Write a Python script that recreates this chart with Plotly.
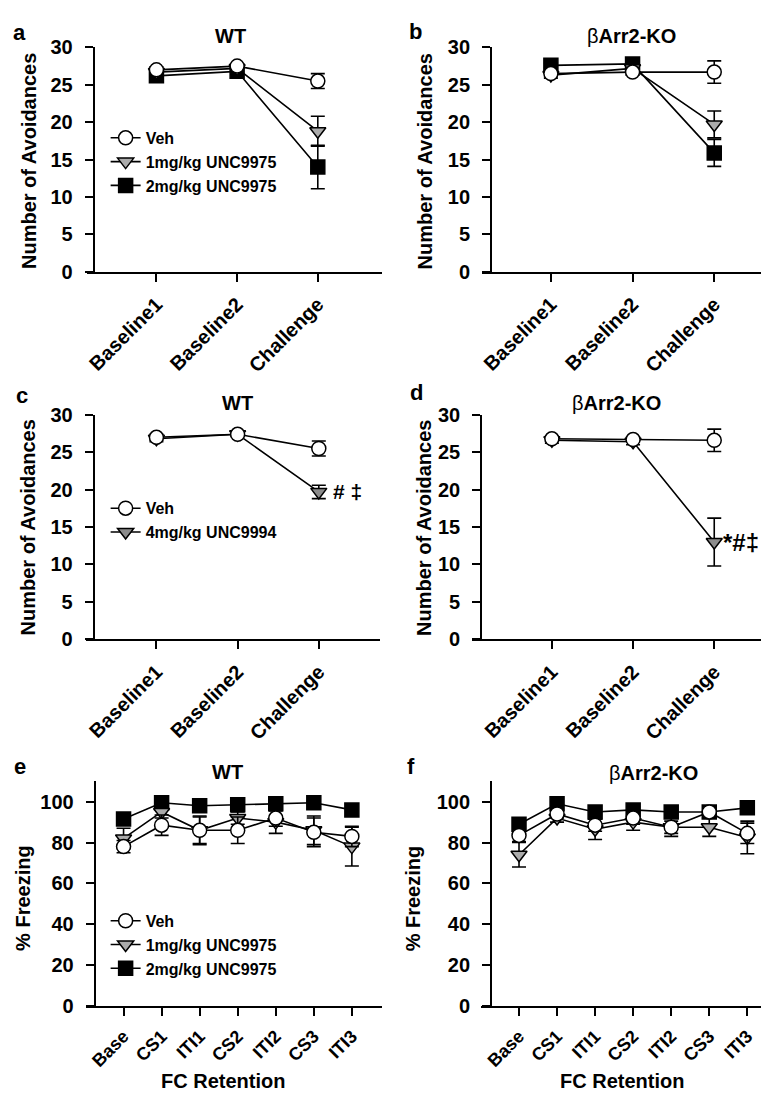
import plotly.graph_objects as go

W, H = 769, 1093

# ---------------- data ----------------
avoid_cats = ["Baseline1", "Baseline2", "Challenge"]
fc_cats = ["Base", "CS1", "ITI1", "CS2", "ITI2", "CS3", "ITI3"]

# panel a: WT, UNC9975
a_veh = [27.0, 27.5, 25.5]
a_veh_se = [0.4, 0.3, 1.0]
a_1mg = [26.7, 27.2, 18.8]
a_1mg_se = [0.3, 0.3, 2.0]
a_2mg = [26.2, 26.8, 14.0]
a_2mg_se = [0.4, 0.4, 2.9]

# panel b: bArr2-KO, UNC9975
b_veh = [26.5, 26.7, 26.7]
b_veh_se = [0.4, 0.4, 1.5]
b_1mg = [26.3, 27.2, 19.7]
b_1mg_se = [0.4, 0.3, 1.8]
b_2mg = [27.6, 27.8, 15.9]
b_2mg_se = [0.3, 0.3, 1.8]

# panel c: WT, UNC9994
c_veh = [27.0, 27.4, 25.5]
c_veh_se = [0.4, 0.3, 1.0]
c_4mg = [26.8, 27.4, 19.7]
c_4mg_se = [0.4, 0.3, 0.9]

# panel d: bArr2-KO, UNC9994
d_veh = [26.8, 26.7, 26.6]
d_veh_se = [0.3, 0.3, 1.5]
d_4mg = [26.6, 26.4, 13.0]
d_4mg_se = [0.4, 0.4, 3.2]

# panel e: WT, FC retention
e_veh = [78.0, 88.5, 86.0, 86.0, 92.0, 85.0, 83.0]
e_veh_se = [3.0, 5.0, 6.5, 6.5, 4.0, 7.0, 5.0]
e_1mg = [82.0, 95.0, 86.0, 92.0, 90.0, 86.0, 78.0]
e_1mg_se = [5.0, 3.0, 7.0, 3.0, 5.5, 7.0, 9.5]
e_2mg = [91.5, 99.5, 98.0, 98.5, 99.0, 99.5, 96.0]
e_2mg_se = [2.0, 1.0, 1.5, 1.5, 1.5, 0.8, 3.0]

# panel f: bArr2-KO, FC retention
f_veh = [83.5, 94.0, 88.5, 92.0, 87.5, 95.0, 84.5]
f_veh_se = [3.0, 2.0, 3.0, 3.0, 3.0, 2.0, 5.0]
f_1mg = [74.0, 92.0, 86.5, 90.0, 87.5, 87.5, 82.5]
f_1mg_se = [6.0, 2.0, 5.0, 4.0, 4.5, 4.5, 8.0]
f_2mg = [89.0, 99.0, 95.0, 96.0, 95.0, 95.0, 97.0]
f_2mg_se = [1.5, 1.0, 1.5, 1.5, 1.5, 1.5, 1.5]

lbl_veh = "Veh"
lbl_1mg = "1mg/kg UNC9975"
lbl_2mg = "2mg/kg UNC9975"
lbl_4mg = "4mg/kg UNC9994"

# ---------------- styling ----------------
FONT = "Liberation Sans, Arial, sans-serif"
LINE_W = 1.6
MSIZE = 14
GREY_LIGHT = "#ababab"
GREY_DARK = "#8c8c8c"

# panel pixel geometry: x-left, x-right, y-axis x, first category x, spacing, y bottom, y top, ymax
geom = {
    1: dict(xl=76, xr=372, ya=83, c0=146, s=81, yb=258, yt=29, ymax=30, dt=5, xfs=20),
    2: dict(xl=473, xr=765, ya=482, c0=542, s=82, yb=258, yt=29, ymax=30, dt=5, xfs=20),
    3: dict(xl=75, xr=370, ya=83, c0=146, s=81.5, yb=633, yt=404, ymax=30, dt=5, xfs=20),
    4: dict(xl=463, xr=765, ya=472, c0=543, s=81.5, yb=633, yt=404, ymax=30, dt=5, xfs=20),
    5: dict(xl=75, xr=372, ya=84, c0=113, s=38.2, yb=1007, yt=778, ymax=110, dt=20, xfs=18),
    6: dict(xl=472, xr=768, ya=482, c0=510, s=38.2, yb=1007, yt=778, ymax=110, dt=20, xfs=18),
}

fig = go.Figure()

def add_series(i, cats, vals, se, name, symbol, fill, legend=None, show=False):
    sfx = "" if i == 1 else str(i)
    fig.add_trace(go.Scatter(
        x=list(range(len(cats))), y=vals, name=name,
        mode="lines+markers",
        line=dict(color="black", width=LINE_W),
        marker=dict(symbol=symbol, size=MSIZE, color=fill,
                    line=dict(color="black", width=1.5)),
        error_y=dict(type="data", array=se, visible=True, color="black",
                     thickness=1.6, width=7),
        xaxis="x" + sfx, yaxis="y" + sfx,
        showlegend=show, legend=legend if legend else "legend",
    ))

# draw order: highest dose first so Veh is on top
add_series(1, avoid_cats, a_2mg, a_2mg_se, lbl_2mg, "square", "black", "legend", True)
add_series(1, avoid_cats, a_1mg, a_1mg_se, lbl_1mg, "triangle-down", GREY_LIGHT, "legend", True)
add_series(1, avoid_cats, a_veh, a_veh_se, lbl_veh, "circle", "white", "legend", True)

add_series(2, avoid_cats, b_2mg, b_2mg_se, lbl_2mg, "square", "black")
add_series(2, avoid_cats, b_1mg, b_1mg_se, lbl_1mg, "triangle-down", GREY_LIGHT)
add_series(2, avoid_cats, b_veh, b_veh_se, lbl_veh, "circle", "white")

add_series(3, avoid_cats, c_4mg, c_4mg_se, lbl_4mg, "triangle-down", GREY_DARK, "legend2", True)
add_series(3, avoid_cats, c_veh, c_veh_se, lbl_veh, "circle", "white", "legend2", True)

add_series(4, avoid_cats, d_4mg, d_4mg_se, lbl_4mg, "triangle-down", GREY_DARK)
add_series(4, avoid_cats, d_veh, d_veh_se, lbl_veh, "circle", "white")

add_series(5, fc_cats, e_2mg, e_2mg_se, lbl_2mg, "square", "black", "legend3", True)
add_series(5, fc_cats, e_1mg, e_1mg_se, lbl_1mg, "triangle-down", GREY_LIGHT, "legend3", True)
add_series(5, fc_cats, e_veh, e_veh_se, lbl_veh, "circle", "white", "legend3", True)

add_series(6, fc_cats, f_2mg, f_2mg_se, lbl_2mg, "square", "black")
add_series(6, fc_cats, f_1mg, f_1mg_se, lbl_1mg, "triangle-down", GREY_LIGHT)
add_series(6, fc_cats, f_veh, f_veh_se, lbl_veh, "circle", "white")

layout = dict(
    width=W, height=H,
    margin=dict(l=0, r=0, t=0, b=0),
    paper_bgcolor="white", plot_bgcolor="white",
    font=dict(family=FONT, color="black", size=16),
)

for i, g in geom.items():
    sfx = "" if i == 1 else str(i)
    cats = avoid_cats if i <= 4 else fc_cats
    layout["xaxis" + sfx] = dict(
        domain=[g["xl"] / W, g["xr"] / W],
        range=[(g["xl"] - g["c0"]) / g["s"], (g["xr"] - g["c0"]) / g["s"]],
        anchor="y" + sfx,
        tickmode="array", tickvals=list(range(len(cats))), ticktext=cats,
        tickangle=-45, ticks="outside", ticklen=8, tickwidth=2, tickcolor="black",
        ticklabelstandoff=3,
        showline=True, linewidth=2, linecolor="black",
        showgrid=False, zeroline=False,
        tickfont=dict(family=FONT, size=g["xfs"], weight="bold"),
        fixedrange=True,
    )
    layout["yaxis" + sfx] = dict(
        domain=[1 - g["yb"] / H, 1 - g["yt"] / H],
        range=[0, g["ymax"]],
        anchor="free", position=g["ya"] / W,
        tickmode="linear", tick0=0, dtick=g["dt"],
        ticks="outside", ticklen=8, tickwidth=2, tickcolor="black",
        ticklabelstandoff=8,
        showline=True, linewidth=2, linecolor="black",
        showgrid=False, zeroline=False,
        tickfont=dict(family=FONT, size=20, weight="bold"),
        fixedrange=True,
    )
    if i == 5 or i == 6:
        layout["yaxis" + sfx]["tickmode"] = "array"
        layout["yaxis" + sfx]["tickvals"] = [0, 20, 40, 60, 80, 100]

legend_common = dict(
    xanchor="left", yanchor="top", bgcolor="rgba(0,0,0,0)",
    font=dict(family=FONT, size=16, weight="bold"),
    traceorder="reversed", itemwidth=30, tracegroupgap=0,
)
layout["legend"] = dict(legend_common, x=95 / W, y=1 - 104 / H)
layout["legend2"] = dict(legend_common, x=95 / W, y=1 - 482 / H)
layout["legend3"] = dict(legend_common, x=95 / W, y=1 - 903 / H)

ann = []
def txt(x, y, t, size=20, angle=0, xanchor="center", weight="bold"):
    ann.append(dict(x=x / W, y=1 - y / H, xref="paper", yref="paper", text=t,
                    showarrow=False, textangle=angle, xanchor=xanchor, yanchor="middle",
                    font=dict(family=FONT, size=size, color="black", weight=weight)))

# panel letters
txt(9, 14, "a", 22)
txt(406, 13, "b", 22)
txt(11, 384, "c", 22)
txt(407, 381, "d", 22)
txt(9, 763, "e", 22)
txt(402, 763, "f", 22)

# panel titles
txt(220, 17, "WT", 20)
txt(623, 17, "β<b>Arr2-KO</b>", 20, weight="normal")
txt(227, 392, "WT", 20)
txt(608, 392, "β<b>Arr2-KO</b>", 20, weight="normal")
txt(217, 768, "WT", 20)
txt(645, 769, "β<b>Arr2-KO</b>", 20, weight="normal")

# y axis titles
txt(18, 145, "Number of Avoidances", 20, -90)
txt(416, 145, "Number of Avoidances", 20, -90)
txt(17, 519, "Number of Avoidances", 20, -90)
txt(414, 519, "Number of Avoidances", 20, -90)
txt(12, 897, "% Freezing", 20, -90)
txt(404, 897, "% Freezing", 20, -90)

# x axis titles
txt(213, 1084, "FC Retention", 20)
txt(613, 1084, "FC Retention", 20)

# significance markers
ann.append(dict(x=2, y=c_4mg[2], xref="x3", yref="y3", text="# ‡", showarrow=False,
                xanchor="left", yanchor="middle", xshift=12,
                font=dict(family=FONT, size=21, color="black", weight="bold")))
ann.append(dict(x=2, y=d_4mg[2], xref="x4", yref="y4", text="*#‡", showarrow=False,
                xanchor="left", yanchor="middle", xshift=7,
                font=dict(family=FONT, size=24, color="black", weight="bold")))

layout["annotations"] = ann
fig.update_layout(**layout)
fig.write_html("out.html")
